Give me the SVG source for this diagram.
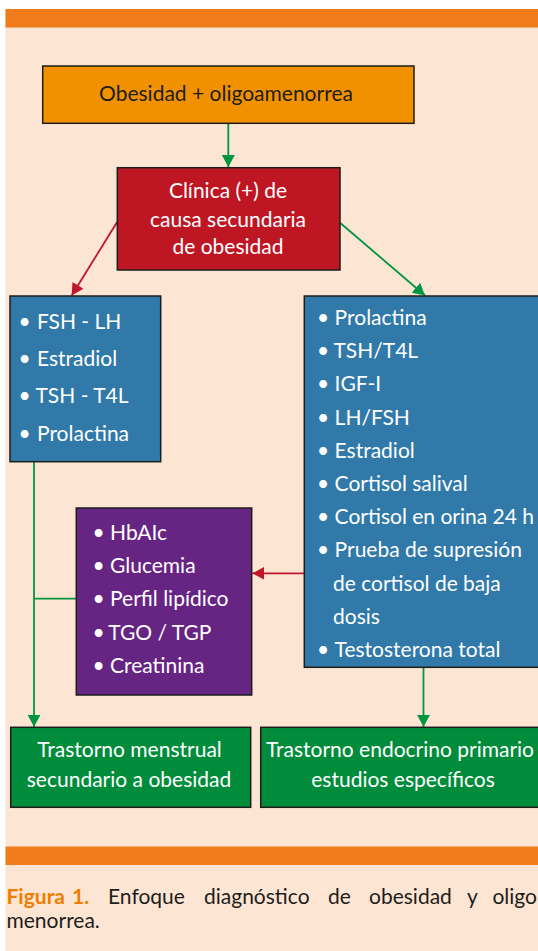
<svg xmlns="http://www.w3.org/2000/svg" width="538" height="951" viewBox="0 0 538 951">
<style>
text{font-family:Lato,"Open Sans","Liberation Sans",sans-serif;font-size:21px}
.box{stroke:#1d1d1b;stroke-width:1.5}
.w{fill:#ffffff}
.k{fill:#1d1d1b}
.cap{font-size:21px;fill:#1d1d1b}
.fig{font-size:21px;fill:#ef7d00;font-weight:bold}
.g{stroke:#009640;stroke-width:1.8;fill:none}
.r{stroke:#c0152a;stroke-width:1.8;fill:none}
</style>
<defs>
<marker id="ag" markerUnits="userSpaceOnUse" markerWidth="14" markerHeight="14" refX="12" refY="6.5" orient="auto"><path d="M0,0 L12,6.5 L0,13 z" fill="#009640"/></marker>
<marker id="ar" markerUnits="userSpaceOnUse" markerWidth="14" markerHeight="14" refX="12" refY="6.5" orient="auto"><path d="M0,0 L12,6.5 L0,13 z" fill="#c0152a"/></marker>
</defs>
<rect x="0" y="0" width="538" height="951" fill="#ffffff"/>
<rect x="5.5" y="9" width="533" height="942" fill="#fde5d3"/>
<rect x="5.5" y="9" width="533" height="18.5" fill="#ef7b1a"/>
<rect x="5.5" y="846.5" width="533" height="18.5" fill="#ef7b1a"/>

<g id="connectors">
<line class="g" x1="228.3" y1="123.3" x2="228.3" y2="167" marker-end="url(#ag)"/>
<line class="r" x1="117.3" y1="221.7" x2="71.7" y2="295.5" marker-end="url(#ar)"/>
<line class="g" x1="340" y1="222.7" x2="425" y2="295.5" marker-end="url(#ag)"/>
<line class="g" x1="34" y1="461.7" x2="34" y2="726.8" marker-end="url(#ag)"/>
<line class="g" x1="34" y1="598.7" x2="76.3" y2="598.7"/>
<line class="r" x1="304.3" y1="573.3" x2="252.4" y2="573.3" marker-end="url(#ar)"/>
<line class="g" x1="423.5" y1="667.3" x2="423.5" y2="726.8" marker-end="url(#ag)"/>
</g>

<g id="n-top">
<rect class="box" x="42.7" y="66" width="371.3" height="57.3" fill="#f29100"/>
<text class="k" x="226" y="100.7" text-anchor="middle">Obesidad + oligoamenorrea</text>
</g>

<g id="n-clinica">
<rect class="box" x="117.3" y="167.7" width="222.7" height="102.3" fill="#be1622"/>
<text class="w" x="228" y="198.3" text-anchor="middle">Clínica (+) de</text>
<text class="w" x="228" y="226.7" text-anchor="middle">causa secundaria</text>
<text class="w" x="228" y="254" text-anchor="middle">de obesidad</text>
</g>

<g id="n-left-labs">
<rect class="box" x="10" y="296" width="150.7" height="165.7" fill="#3079a8"/>
<text class="w"><tspan x="18.5" y="329">•</tspan><tspan x="37" y="329">FSH - LH</tspan></text>
<text class="w"><tspan x="18.5" y="366">•</tspan><tspan x="37" y="366">Estradiol</tspan></text>
<text class="w"><tspan x="18.5" y="403.3">•</tspan><tspan x="35.5" y="403.3">TSH - T4L</tspan></text>
<text class="w"><tspan x="18.5" y="440.7">•</tspan><tspan x="37" y="440.7">Prolactina</tspan></text>
</g>

<g id="n-right-labs">
<rect class="box" x="304.3" y="296" width="240" height="371.3" fill="#3079a8"/>
<text class="w"><tspan x="317" y="325">•</tspan><tspan x="334.6" y="325">Prolactina</tspan></text>
<text class="w"><tspan x="317" y="358.2">•</tspan><tspan x="333.5" y="358.2">TSH/T4L</tspan></text>
<text class="w"><tspan x="317" y="391.4">•</tspan><tspan x="334.6" y="391.4">IGF-I</tspan></text>
<text class="w"><tspan x="317" y="424.6">•</tspan><tspan x="334.6" y="424.6">LH/FSH</tspan></text>
<text class="w"><tspan x="317" y="457.8">•</tspan><tspan x="334.6" y="457.8">Estradiol</tspan></text>
<text class="w"><tspan x="317" y="491">•</tspan><tspan x="334.6" y="491">Cortisol salival</tspan></text>
<text class="w"><tspan x="317" y="524.2">•</tspan><tspan x="334.6" y="524.2">Cortisol en orina 24 h</tspan></text>
<text class="w"><tspan x="317" y="557.4">•</tspan><tspan x="334.6" y="557.4">Prueba de supresión</tspan></text>
<text class="w" x="333" y="590.6">de cortisol de baja</text>
<text class="w" x="333" y="623.8">dosis</text>
<text class="w"><tspan x="317" y="657">•</tspan><tspan x="334.6" y="657">Testosterona total</tspan></text>
</g>

<g id="n-metabolic">
<rect class="box" x="76.3" y="508" width="175.4" height="187" fill="#662483"/>
<text class="w"><tspan x="92.5" y="540">•</tspan><tspan x="110" y="540">HbAIc</tspan></text>
<text class="w"><tspan x="92.5" y="573.2">•</tspan><tspan x="110" y="573.2">Glucemia</tspan></text>
<text class="w"><tspan x="92.5" y="606.4">•</tspan><tspan x="110" y="606.4">Perfil lipídico</tspan></text>
<text class="w"><tspan x="92.5" y="639.6">•</tspan><tspan x="108.3" y="639.6">TGO / TGP</tspan></text>
<text class="w"><tspan x="92.5" y="672.8">•</tspan><tspan x="110" y="672.8">Creatinina</tspan></text>
</g>

<g id="n-secundario">
<rect class="box" x="10.7" y="727.3" width="240" height="80" fill="#008c3a"/>
<text class="w" x="129.5" y="756.7" text-anchor="middle">Trastorno menstrual</text>
<text class="w" x="129" y="786.7" text-anchor="middle">secundario a obesidad</text>
</g>

<g id="n-primario">
<rect class="box" x="260.7" y="727.3" width="284" height="80" fill="#008c3a"/>
<text class="w" x="400" y="756.7" text-anchor="middle">Trastorno endocrino primario</text>
<text class="w" x="403" y="786.7" text-anchor="middle">estudios específicos</text>
</g>

<g id="caption">
<text class="fig" x="6.5" y="904">Figura</text>
<text class="fig" x="72" y="904">1.</text>
<text class="cap" x="108" y="904">Enfoque</text>
<text class="cap" x="204" y="904">diagnóstico</text>
<text class="cap" x="328" y="904">de</text>
<text class="cap" x="369" y="904">obesidad</text>
<text class="cap" x="467" y="904">y</text>
<text class="cap" x="537" y="904" text-anchor="end">oligo</text>
<text class="cap" x="6.5" y="928">menorrea.</text>
</g>
</svg>
